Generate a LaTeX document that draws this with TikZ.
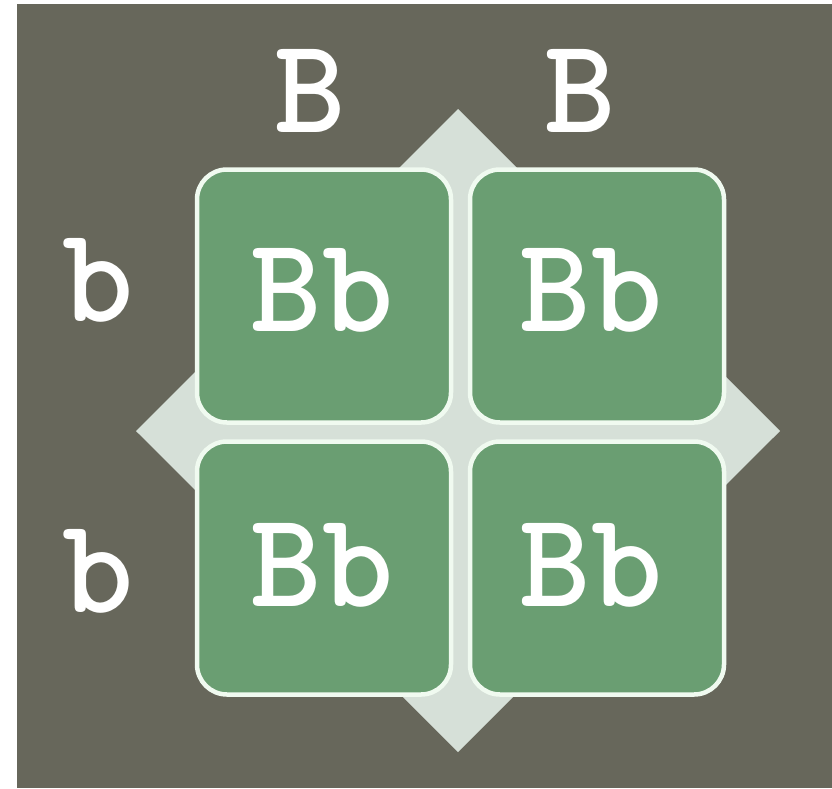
\documentclass[tikz,border=0pt]{standalone}
\definecolor{slategray}{RGB}{103,103,91}
\definecolor{paleleaf}{RGB}{214,224,216}
\definecolor{punnettgreen}{RGB}{106,158,114}
\definecolor{rimwhite}{RGB}{240,250,240}
\usepackage{tikz}
\usetikzlibrary{shapes,arrows,positioning,calc}

\begin{document}
\begin{tikzpicture}[x=1pt,y=-1pt,
    cell/.style={draw=rimwhite, line width=4.5pt, fill=punnettgreen, rounded corners=30pt,
                 minimum width=254pt, minimum height=253pt, inner sep=0pt},
    allele/.style={text=white, inner sep=0pt, font={\fontsize{136}{136}\selectfont\ttfamily\bfseries}}]
                \useasboundingbox (0,0) rectangle (832,788);
                \fill[white] (0,0) rectangle (832,788);
                \fill[slategray] (17,4) rectangle (832,788);

                % Diamond behind the square
                \fill[paleleaf] (458,109) -- (780,431) -- (458,752) -- (136,431) -- cycle;

                % Offspring cells
                \node[cell] (tlcell) at (324,296) {};
                \node[cell] (trcell) at (597,296) {};
                \node[cell] (blcell) at (324,568) {};
                \node[cell] (brcell) at (597,568) {};
                \node[allele] (tltext) at ($(tlcell)+(-2,-6)$) {Bb};
                \node[allele] (trtext) at ($(trcell)+(-6,-6)$) {Bb};
                \node[allele] (bltext) at ($(blcell)+(-2,-3)$) {Bb};
                \node[allele] (brtext) at ($(brcell)+(-6,-3)$) {Bb};

                % Parent alleles
                \node[allele] (topB) at (310,91) {B};
                \node[allele] (topB2) at (580,91) {B};
                \node[allele] (leftb) at (98,280) {b};
                \node[allele] (leftb2) at (98,571) {b};
            \end{tikzpicture}
\end{document}
